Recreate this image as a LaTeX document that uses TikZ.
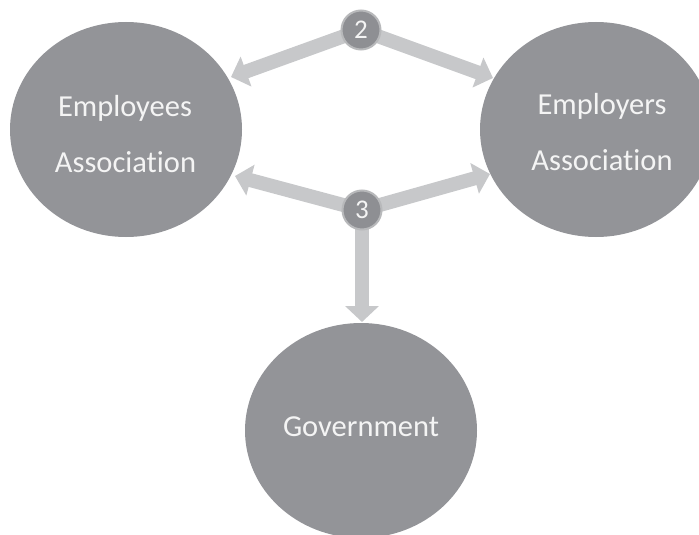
\documentclass[tikz,border=0pt]{standalone}
\usepackage{fontspec}
\setmainfont{Carlito}[Ligatures=NoCommon]
\usetikzlibrary{arrows.meta,shapes.geometric}
\definecolor{bigc}{HTML}{939498}
\definecolor{arrc}{HTML}{C7C8CA}
\definecolor{smallc}{HTML}{8E8F93}
\definecolor{ringc}{HTML}{B8B9BB}
\definecolor{txtc}{HTML}{F4F4F4}
\tikzset{
  bigcircle/.style={ellipse, fill=bigc, minimum width=232pt, minimum height=215pt, inner sep=0pt},
  bigtext/.style={text=txtc, font=\fontsize{30.5}{36}\selectfont, anchor=base, inner sep=0pt},
  numcircle/.style={circle, fill=smallc, draw=ringc, line width=2pt, minimum size=39pt, inner sep=0pt, text=txtc, font=\fontsize{27}{32}\selectfont},
  conn/.style={draw=arrc, line width=14pt, -{Triangle[width=31pt,length=16pt]}}
}
\begin{document}
\begin{tikzpicture}[x=1pt,y=-1pt]
\useasboundingbox (0,0) rectangle (699,535);
\clip (0,0) rectangle (699,535);
% big circles
\node[bigcircle] (emp) at (126,129.5) {};
\node[bigcircle] (empr) at (596,129.5) {};
\node[bigcircle] (gov) at (361,430.5) {};
% labels
\node[bigtext] (empA) at (125,117) {Employees};
\node[bigtext] (empB) at (125.5,172) {Association};
\node[bigtext] (emprA) at (602,114) {Employers};
\node[bigtext] (emprB) at (602,170) {Association};
\node[bigtext] (govA) at (361,436) {Government};
% connector points
\coordinate (p2) at (361,30);
\coordinate (p3) at (362,210);
\coordinate (t2l) at (231,77);
\coordinate (t2r) at (493,78);
\coordinate (t3l) at (235,176);
\coordinate (t3r) at (490,174);
\coordinate (tg) at (362,322);
% arrows
\draw[conn] (p2) -- (t2l);
\draw[conn] (p2) -- (t2r);
\draw[conn] (p3) -- (t3l);
\draw[conn] (p3) -- (t3r);
\draw[conn, -{Triangle[width=33pt,length=16pt]}] (p3) -- (tg);
% number circles
\node[numcircle] (n2) at (p2) {2};
\node[numcircle] (n3) at (p3) {3};
\end{tikzpicture}
\end{document}
